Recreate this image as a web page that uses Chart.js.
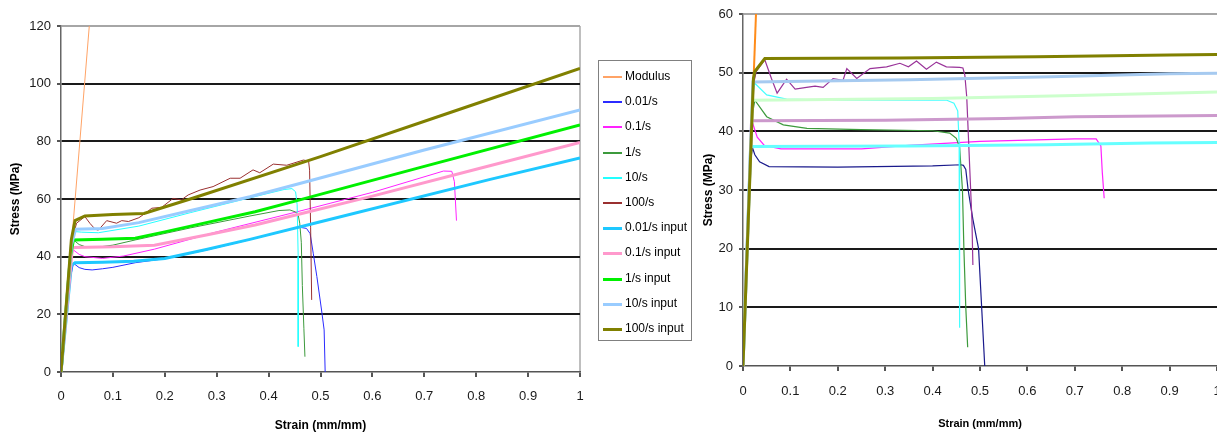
<!DOCTYPE html>
<html><head><meta charset="utf-8">
<script src="https://cdn.jsdelivr.net/npm/chart.js@4/dist/chart.umd.min.js"></script>
<style>
html,body{margin:0;padding:0;background:#fff;width:1217px;height:436px;overflow:hidden;}
#c1{position:absolute;left:0;top:0;}
#c2{position:absolute;left:700px;top:0;}
#legend{position:absolute;left:598px;top:60px;width:94px;height:281px;border:1px solid #808080;box-sizing:border-box;font-family:"Liberation Sans",Arial,sans-serif;font-size:12px;color:#000;}
.item{position:absolute;left:4px;height:16px;line-height:16px;}
.sw{position:absolute;left:0;top:8px;width:19px;}
.lbl{position:absolute;left:22px;top:0;white-space:nowrap;}
</style></head><body>
<canvas id="c1" width="700" height="436"></canvas>
<canvas id="c2" width="517" height="436"></canvas>
<div id="legend"></div>
<script>
// ---- tick labels ----
const X_TICKS = [0, 0.1, 0.2, 0.3, 0.4, 0.5, 0.6, 0.7, 0.8, 0.9, 1];
const L_Y_TICKS = [0, 20, 40, 60, 80, 100, 120];
const R_Y_TICKS = [0, 10, 20, 30, 40, 50, 60];
const SERIES_NAMES = ['Modulus', '0.01/s', '0.1/s', '1/s', '10/s', '100/s',
  '0.01/s input', '0.1/s input', '1/s input', '10/s input', '100/s input'];

// ---- left chart series [strain, stress] ----
const L_MODULUS = [[0, 0], [0.0545, 120]];
const L_001 = [[0, 0], [0.015, 30], [0.024, 37.7], [0.035, 36.2], [0.046, 35.6], [0.06, 35.4], [0.08, 35.8], [0.1, 36.3], [0.143, 37.9], [0.2, 39.3], [0.28, 42.3], [0.364, 45.9], [0.42, 48.4], [0.46, 50.2], [0.473, 49.8], [0.48, 48], [0.486, 41.2], [0.493, 33.1], [0.502, 21.5], [0.507, 14.6], [0.509, 0]];
const L_01 = [[0, 0], [0.02, 40], [0.024, 42.3], [0.035, 40.8], [0.046, 40], [0.08, 39.4], [0.12, 40.2], [0.18, 42.6], [0.3, 48.6], [0.46, 55.8], [0.6, 62.3], [0.737, 69.7], [0.753, 69.6], [0.758, 66], [0.762, 52.5]];
const L_1 = [[0, 0], [0.018, 40], [0.024, 45.8], [0.035, 44.2], [0.046, 43.5], [0.066, 43.2], [0.1, 44], [0.143, 45.8], [0.25, 50], [0.364, 54.1], [0.42, 56], [0.441, 56.2], [0.452, 55.5], [0.457, 54.5], [0.46, 51.6], [0.463, 45], [0.465, 30], [0.468, 15], [0.47, 5.3]];
const L_10 = [[0, 0], [0.02, 44], [0.027, 48.7], [0.04, 48.5], [0.072, 48.3], [0.15, 50.6], [0.25, 55.3], [0.35, 59.8], [0.43, 63.3], [0.445, 63.6], [0.452, 62.5], [0.455, 58], [0.457, 40], [0.457, 8.8]];
const L_100 = [[0, 0], [0.02, 45], [0.03, 51.6], [0.046, 53.9], [0.056, 51.5], [0.066, 49.5], [0.072, 49.2], [0.088, 52.5], [0.107, 51.6], [0.117, 52.5], [0.13, 52.2], [0.15, 53.5], [0.162, 55.0], [0.175, 56.8], [0.194, 57.1], [0.216, 60.2], [0.232, 59.7], [0.245, 61.4], [0.268, 63.1], [0.293, 64.3], [0.326, 67.2], [0.345, 67.2], [0.37, 70.1], [0.383, 69.1], [0.409, 72.1], [0.435, 71.7], [0.467, 73.5], [0.477, 73.2], [0.479, 70], [0.481, 50], [0.483, 25]];
const L_001_IN = [[0, 0], [0.02, 37], [0.027, 37.9], [0.08, 38.1], [0.14, 38.4], [0.2, 39.4], [0.28, 42.5], [0.364, 46.0], [0.5, 52.1], [0.827, 66.8], [1.0, 74.2]];
const L_01_IN = [[0, 0], [0.022, 43], [0.027, 43.2], [0.1, 43.4], [0.18, 44.0], [0.28, 47.5], [0.374, 51.0], [0.46, 54.8], [0.6, 61], [0.8, 70.3], [1.0, 79.6]];
const L_1_IN = [[0, 0], [0.018, 40], [0.024, 45.8], [0.08, 46.0], [0.143, 46.4], [0.2, 48.6], [0.28, 51.8], [0.374, 55.6], [0.46, 59.7], [0.7, 71.3], [1.0, 85.7]];
const L_10_IN = [[0, 0], [0.02, 44], [0.028, 49.5], [0.08, 49.8], [0.15, 51.8], [0.25, 56.0], [0.364, 60.8], [0.46, 65.4], [0.7, 77.0], [1.0, 90.9]];
const L_100_IN = [[0, 0], [0.02, 46], [0.027, 52.5], [0.046, 54.1], [0.1, 54.6], [0.16, 55.0], [0.249, 60], [0.5, 74.7], [0.75, 90], [1.0, 105.3]];

// ---- right chart series [strain, stress] ----
const R_MODULUS = [[0, 0], [0.0274, 60]];
const R_001 = [[0, 0], [0.016, 35], [0.02, 37.2], [0.025, 36], [0.035, 34.8], [0.055, 34.0], [0.2, 33.9], [0.4, 34.1], [0.46, 34.3], [0.465, 34.2], [0.47, 33.5], [0.475, 30], [0.485, 25], [0.497, 20], [0.51, 0]];
const R_01 = [[0, 0], [0.018, 40], [0.02, 41.5], [0.03, 39], [0.045, 37.6], [0.08, 37.0], [0.25, 37.0], [0.35, 37.6], [0.5, 38.3], [0.7, 38.7], [0.745, 38.7], [0.755, 37.5], [0.758, 33], [0.762, 28.6]];
const R_1 = [[0, 0], [0.02, 43], [0.025, 45.3], [0.05, 42.5], [0.085, 41.1], [0.135, 40.5], [0.25, 40.3], [0.4, 40.1], [0.436, 39.7], [0.45, 38.8], [0.457, 37.3], [0.463, 30], [0.466, 20], [0.47, 10], [0.474, 3.2]];
const R_10 = [[0, 0], [0.02, 46], [0.025, 48.2], [0.05, 46.2], [0.092, 45.5], [0.2, 45.3], [0.43, 45.3], [0.445, 44.8], [0.453, 43.5], [0.456, 38], [0.457, 20], [0.457, 6.5]];
const R_100 = [[0, 0], [0.022, 48], [0.028, 50.2], [0.046, 52.2], [0.06, 49], [0.072, 46.5], [0.092, 48.9], [0.11, 47.2], [0.134, 47.5], [0.152, 47.7], [0.169, 47.5], [0.19, 49.0], [0.211, 48.7], [0.219, 50.7], [0.24, 49.0], [0.268, 50.7], [0.303, 51.0], [0.331, 51.6], [0.349, 51.0], [0.366, 52.0], [0.387, 50.6], [0.408, 51.8], [0.429, 51.0], [0.457, 50.9], [0.464, 50.8], [0.468, 49.6], [0.472, 45.9], [0.483, 24.9], [0.485, 17.2]];
const R_001_IN = [[0, 0], [0.016, 37.4], [0.35, 37.5], [0.64, 37.7], [0.86, 38.0], [1.0, 38.1]];
const R_01_IN = [[0, 0], [0.018, 41.8], [0.3, 41.9], [0.55, 42.2], [0.7, 42.5], [1.0, 42.7]];
const R_1_IN = [[0, 0], [0.02, 45.3], [0.4, 45.6], [0.7, 46.1], [1.0, 46.7]];
const R_10_IN = [[0, 0], [0.021, 48.4], [0.35, 48.8], [0.65, 49.3], [0.9, 49.8], [1.0, 49.9]];
const R_100_IN = [[0, 0], [0.022, 49], [0.025, 50.2], [0.046, 52.4], [0.33, 52.5], [0.62, 52.7], [0.9, 53.0], [1.0, 53.1]];

// ---- styles ----
const L_COLORS = ['#FFA366', '#2B2BFF', '#FF22FF', '#3C9A3C', '#22FFFF', '#9A3030',
  '#1EC8FF', '#FF99CC', '#00F000', '#99CCFF', '#808000'];
const R_COLORS = ['#FF8C1A', '#1A1A8C', '#FF22FF', '#3C9A3C', '#44FFFF', '#993399',
  '#66FFFF', '#CC99CC', '#CCFFCC', '#A6CAF0', '#808000'];
const L_WIDTHS = [1, 1, 1, 1, 1, 1, 3, 3, 3, 3, 3];
const R_WIDTHS = [2, 1.2, 1.2, 1.2, 1.2, 1.2, 3, 3, 3, 3, 3];

const FONT_FAM = '"Liberation Sans", Arial, sans-serif';

function build(id, arrs, colors, widths, yTicks, g) {
  const n = arrs.length;
  const yMax = yTicks[yTicks.length - 1];
  return new Chart(document.getElementById(id), {
    type: 'scatter',
    data: {
      datasets: arrs.map((a, i) => ({
        label: SERIES_NAMES[i],
        data: a.map(p => ({ x: p[0], y: p[1] })),
        showLine: true, borderColor: colors[i], backgroundColor: colors[i],
        borderWidth: widths[i], pointRadius: 0, pointHoverRadius: 0, tension: 0,
        order: n - i
      }))
    },
    options: {
      responsive: false, animation: false, events: [],
      layout: { padding: { left: 0, right: g.padR, top: g.top, bottom: 0 } },
      plugins: { legend: { display: false }, tooltip: { enabled: false } },
      scales: {
        x: {
          type: 'linear', min: 0, max: 1,
          afterBuildTicks: s => { s.ticks = X_TICKS.map(v => ({ value: v })); },
          afterFit: s => { s.height = g.xh; s.paddingRight = 0; s.paddingLeft = 0; },
          ticks: { font: { family: FONT_FAM, size: 13 }, color: '#1a1a1a', padding: g.xpad, maxRotation: 0, autoSkip: false,
            callback: v => String(v) },
          grid: {
            color: c => (g.rightBorder && c.tick && c.tick.value === 1) ? '#BFBFBF' : 'rgba(0,0,0,0)',
            lineWidth: 2, tickLength: 5, tickColor: '#555', drawTicks: true
          },
          border: { color: '#555', width: 1.5 },
          title: { display: true, text: 'Strain (mm/mm)', color: '#000',
            font: { family: FONT_FAM, size: g.tsize, weight: 'bold' }, padding: { top: 0, bottom: g.xtb } }
        },
        y: {
          type: 'linear', min: 0, max: yMax,
          afterBuildTicks: s => { s.ticks = yTicks.map(v => ({ value: v })); },
          afterFit: s => { s.width = g.yw; s.paddingTop = 0; s.paddingBottom = 0; },
          ticks: { font: { family: FONT_FAM, size: 13 }, color: '#1a1a1a', padding: 6, callback: v => String(v) },
          grid: {
            color: c => !c.tick ? 'rgba(0,0,0,0)' : (c.tick.value === yMax ? '#A6A6A6' : (c.tick.value === 0 ? 'rgba(0,0,0,0)' : '#1a1a1a')),
            lineWidth: 2, tickLength: 4, tickColor: '#555'
          },
          border: { color: '#666', width: 1.5 },
          title: { display: true, text: 'Stress (MPa)', color: '#000',
            font: { family: FONT_FAM, size: 12, weight: 'bold' }, padding: { top: g.ytt, bottom: 0 } }
        }
      }
    }
  });
}

build('c1', [L_MODULUS, L_001, L_01, L_1, L_10, L_100, L_001_IN, L_01_IN, L_1_IN, L_10_IN, L_100_IN],
  L_COLORS, L_WIDTHS, L_Y_TICKS,
  { padR: 120, top: 26, xh: 64, yw: 61, xpad: 12, xtb: 3, ytt: 8, tsize: 12, rightBorder: true });
build('c2', [R_MODULUS, R_001, R_01, R_1, R_10, R_100, R_001_IN, R_01_IN, R_1_IN, R_10_IN, R_100_IN],
  R_COLORS, R_WIDTHS, R_Y_TICKS,
  { padR: 0, top: 14, xh: 70, yw: 43, xpad: 13, xtb: 5, ytt: 1, tsize: 11, rightBorder: false });

// HTML legend for the left chart
const lg = document.getElementById('legend');
SERIES_NAMES.forEach((name, i) => {
  const it = document.createElement('div');
  it.className = 'item';
  it.style.top = (7 + i * 25.2) + 'px';
  const sw = document.createElement('div');
  sw.className = 'sw';
  sw.style.background = L_COLORS[i];
  sw.style.height = (L_WIDTHS[i] > 1 ? 3 : 2) + 'px';
  const lb = document.createElement('span');
  lb.className = 'lbl';
  lb.textContent = name;
  it.appendChild(sw); it.appendChild(lb);
  lg.appendChild(it);
});
</script>
</body></html>
